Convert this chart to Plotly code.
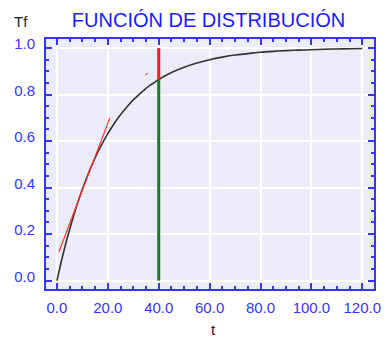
import plotly.graph_objects as go

# Distribution curve
t_vals = [0, 2, 4, 6, 8, 10, 12, 14, 16, 18, 20, 22, 24, 26, 28, 30, 32, 34, 36, 38, 40,
          45, 50, 55, 60, 65, 70, 75, 80, 85, 90, 95, 100, 105, 110, 115, 120]
f_vals = [0.0, 0.095, 0.181, 0.259, 0.330, 0.393, 0.451, 0.503, 0.551, 0.593, 0.632,
          0.667, 0.699, 0.727, 0.753, 0.777, 0.798, 0.817, 0.835, 0.850, 0.865,
          0.895, 0.918, 0.936, 0.950, 0.961, 0.970, 0.976, 0.982, 0.986, 0.989,
          0.991, 0.993, 0.995, 0.996, 0.997, 0.998]

# Tangent line (red)
tan_t = [0.8, 20.8]
tan_y = [0.124, 0.70]

# Small red mark
mark_t = [34.7, 35.7]
mark_y = [0.884, 0.892]

# Vertical marker at t = 40
t_mark = 40
f_at_mark = 0.865
f_top = 1.0

x_ticks = [0, 20, 40, 60, 80, 100, 120]
x_labels = ["0.0", "20.0", "40.0", "60.0", "80.0", "100.0", "120.0"]
y_ticks = [0.0, 0.2, 0.4, 0.6, 0.8, 1.0]
y_labels = ["0.0", "0.2", "0.4", "0.6", "0.8", "1.0"]

BLUE = "#3535ff"
FONT = "Liberation Sans, Arial, sans-serif"

fig = go.Figure()
fig.add_trace(go.Scatter(x=t_vals, y=f_vals, mode="lines",
                         line=dict(color="#333333", width=1.6, shape="spline"),
                         hoverinfo="skip"))
fig.add_trace(go.Scatter(x=tan_t, y=tan_y, mode="lines",
                         line=dict(color="#ff3030", width=1.2), hoverinfo="skip"))
fig.add_trace(go.Scatter(x=mark_t, y=mark_y, mode="lines",
                         line=dict(color="#ff5050", width=1.2), hoverinfo="skip"))
fig.add_trace(go.Scatter(x=[t_mark, t_mark], y=[0, f_at_mark], mode="lines",
                         line=dict(color="#1e7a1e", width=3), hoverinfo="skip"))
fig.add_trace(go.Scatter(x=[t_mark, t_mark], y=[f_at_mark, f_top], mode="lines",
                         line=dict(color="#ff1a1a", width=3), hoverinfo="skip"))

axis_common = dict(
    showline=True, linecolor=BLUE, linewidth=2, mirror="ticks",
    ticks="inside", ticklen=6, tickwidth=1.5, tickcolor=BLUE,
    showgrid=True, gridcolor="white", gridwidth=1.5, zeroline=False,
    tickfont=dict(family=FONT, size=15, color=BLUE),
)

fig.update_layout(
    width=384, height=339,
    margin=dict(l=46, r=3, t=39, b=50),
    paper_bgcolor="white",
    plot_bgcolor="#ecebf8",
    showlegend=False,
    title=dict(text="FUNCIÓN DE DISTRIBUCIÓN", x=0.4955, xref="paper",
               y=1 - 20 / 339, yref="container", xanchor="center", yanchor="middle",
               font=dict(family=FONT, size=20, color="#1a1aff")),
    xaxis=dict(axis_common, range=[-4.3, 124.6], tickvals=x_ticks, ticktext=x_labels,
               minor=dict(dtick=5, ticklen=3, tickcolor=BLUE, ticks="inside", showgrid=False),
               ticklabelstandoff=4, ticklabeloverflow="allow"),
    yaxis=dict(axis_common, range=[-0.036, 1.039], tickvals=y_ticks, ticktext=y_labels,
               minor=dict(dtick=0.05, ticklen=3, tickcolor=BLUE, ticks="inside", showgrid=False),
               ticklabelstandoff=6, ticklabelshift=-4),
    annotations=[
        dict(text="Tf", xref="paper", yref="paper", x=(20 - 46) / 335, y=(289 - 22) / 250,
             showarrow=False, xanchor="center", yanchor="middle",
             font=dict(family=FONT, size=15, color="#222222")),
        dict(text="t", xref="paper", yref="paper", x=(217 - 46) / 335, y=(289 - 329) / 250,
             showarrow=False, xanchor="center", yanchor="middle",
             font=dict(family=FONT, size=15, color="#222222")),
    ],
)

fig.write_html("out.html", config={"displayModeBar": False},
               post_script="document.body.style.margin='0';document.body.style.overflow='hidden';")
